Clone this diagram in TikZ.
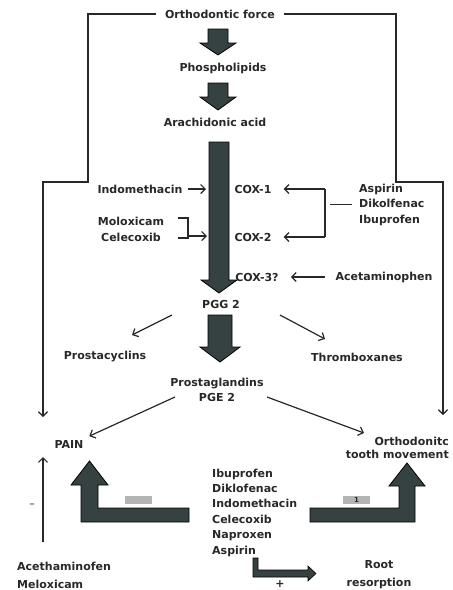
\documentclass[tikz,border=0pt]{standalone}
\usepackage{fontspec}
\setmainfont{DejaVu Sans}
\usetikzlibrary{arrows.meta}
\definecolor{slate}{RGB}{54,66,66}
\definecolor{patch}{RGB}{180,180,180}
\definecolor{ink}{RGB}{40,40,40}
\tikzset{
  lbl/.style={font=\bfseries\fontsize{11}{13}\selectfont, inner sep=2pt, text=ink},
  thin/.style={draw=ink, line width=1.2pt, -{Straight Barb[length=4.5pt,width=9pt]}},
  plain/.style={draw=ink, line width=1.2pt},
  blk/.style={fill=slate, draw=black, line width=0.8pt, line join=miter},
  patchbox/.style={fill=patch, minimum width=27, minimum height=8, inner sep=0pt},
}
% x, top, neck, tip, shaft half width
\newcommand{\downblock}[5]{%
  \draw[blk] (#1-#5,#2) -- (#1+#5,#2) -- (#1+#5,#3) -- (#1+#5+8,#3) -- (#1,#4)
    -- (#1-#5-8,#3) -- (#1-#5,#3) -- cycle;}
\begin{document}
\begin{tikzpicture}[x=1pt,y=-1pt]
  \useasboundingbox (0,0) rectangle (453,590);

  % main pathway
  \node[lbl, inner xsep=9pt] (force) at (220,14) {Orthodontic force};
  \downblock{218}{29}{43}{55}{10}
  \node[lbl] (phos) at (223,68) {Phospholipids};
  \downblock{218}{83}{97}{110}{10}
  \node[lbl] (arach) at (215,122) {Arachidonic acid};
  \downblock{219}{142}{280}{293}{10}
  \node[lbl] (pgg) at (221,304) {PGG 2};
  \downblock{220}{315}{347}{362}{12}
  \node[lbl, align=center, font=\bfseries\fontsize{11}{15}\selectfont] (prost) at (217,390) {Prostaglandins\\PGE 2};

  % cyclooxygenases and blockers
  \node[lbl] (cox1) at (253,189) {COX-1};
  \node[lbl] (cox2) at (253,237) {COX-2};
  \node[lbl] (cox3) at (257,277) {COX-3?};
  \node[lbl] (indo) at (140,189) {Indomethacin};
  \node[lbl, align=center, font=\bfseries\fontsize{11}{16}\selectfont] (molo) at (131,229) {Moloxicam\\Celecoxib};
  \node[lbl, anchor=west, align=left, font=\bfseries\fontsize{11}{15.5}\selectfont] (asp) at (357,204.5) {Aspirin\\Dikolfenac\\Ibuprofen};
  \node[lbl] (aceta) at (384,277) {Acetaminophen};

  \coordinate (c1) at (206,189);
  \draw[thin, shorten <=3pt] (indo.east) -- (c1);
  \coordinate (mb1) at (178,218);
  \coordinate (mb2) at (188,236);
  \coordinate (mb3) at (178,238);
  \coordinate (c2) at (207,236);
  \draw[plain] (mb1) -| (mb2) |- (mb3);
  \draw[thin] (mb2) -- (c2);
  \coordinate (bk1) at (325,189);
  \coordinate (bk2) at (325,237);
  \coordinate (bkm) at (330,204.5);
  \draw[plain] (bk1) -- (bk2);
  \draw[thin, shorten >=10pt] (bk1) -- (cox1.east);
  \draw[thin, shorten >=10pt] (bk2) -- (cox2.east);
  \draw[plain, line width=0.8pt, shorten >=5pt] (bkm) -- (asp.west);
  \draw[thin, shorten <=8pt, shorten >=10pt] (aceta.west) -- (cox3.east);

  % side products
  \node[lbl] (cyc) at (105,357) {Prostacyclins};
  \node[lbl] (thr) at (357,357) {Thromboxanes};
  \coordinate (p1) at (172,315);
  \coordinate (p2) at (132,335);
  \coordinate (p3) at (280,315);
  \coordinate (p4) at (325,339);
  \draw[thin] (p1) -- (p2);
  \draw[thin] (p3) -- (p4);

  % effects
  \node[lbl] (pain) at (69,444) {PAIN};
  \node[lbl, anchor=east, align=right, font=\bfseries\fontsize{11}{13}\selectfont] (otm) at (451,447.5) {Orthodonitc\\tooth movement};
  \coordinate (e1) at (175,397);
  \coordinate (e2) at (267,397);
  \coordinate (e4) at (364,433);
  \draw[thin, shorten >=4pt] (e1) -- (pain.north east);
  \draw[thin] (e2) -- (e4);

  % direct pathways from the force
  \coordinate (lk1) at (88,182);
  \coordinate (lend) at (43,417);
  \coordinate (rk1) at (396,182);
  \coordinate (rend) at (443,415);
  \draw[thin] (force.west) -| (lk1) -| (lend);
  \draw[thin] (force.east) -| (rk1) -| (rend);

  % NSAIDs
  \node[lbl, anchor=west, align=left, font=\bfseries\fontsize{11}{15.4}\selectfont] (nsaid) at (210,512.5)
    {Ibuprofen\\Diklofenac\\Indomethacin\\Celecoxib\\Naproxen\\Aspirin};
  \draw[blk] (189,508) -- (189,522) -- (81,522) -- (81,485) -- (71,485) -- (89.5,461)
    -- (108,485) -- (98,485) -- (98,508) -- cycle;
  \draw[blk] (310,508) -- (310,522) -- (415,522) -- (415,486) -- (425,486) -- (407,463)
    -- (389,486) -- (399,486) -- (399,508) -- cycle;
  \node[patchbox] (neg) at (138,499.5) {};
  \node[patchbox, font=\bfseries\fontsize{7}{7}\selectfont, text=ink] (one) at (356.5,499.5) {1};
  \draw[blk, line width=0.6pt] (253,558) -- (258,558) -- (258,570) -- (308,570) -- (308,566)
    -- (316,573.5) -- (308,581) -- (308,577) -- (253,577) -- cycle;
  \node[lbl] (plus) at (280,584) {+};
  \node[lbl, align=center, font=\bfseries\fontsize{11}{18}\selectfont] (root) at (379,575) {Root\\resorption};

  % analgesics
  \node[lbl, anchor=west, align=left, font=\bfseries\fontsize{11}{18}\selectfont] (acet) at (15,575)
    {Acethaminofen\\Meloxicam};
  \coordinate (u1) at (43,542);
  \coordinate (u2) at (43,457);
  \draw[thin] (u1) -- (u2);
  \node[lbl, font=\fontsize{11}{13}\selectfont] (minus) at (32,506) {–};
\end{tikzpicture}
\end{document}
